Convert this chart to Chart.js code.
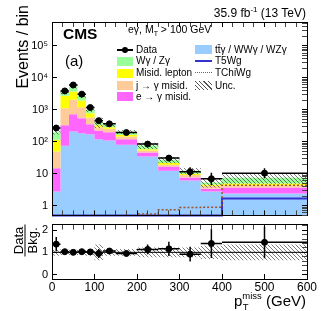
<!DOCTYPE html>
<html><head><meta charset="utf-8">
<script src="https://cdn.jsdelivr.net/npm/chart.js@4.4.1/dist/chart.umd.min.js"></script>
<style>
body{margin:0;background:#fff;}
#wrap{position:relative;width:324px;height:311px;overflow:hidden;font-family:"Liberation Sans",Arial,Helvetica,sans-serif;color:#000;background:#fff;}
canvas{position:absolute;left:0;}
.t{position:absolute;white-space:nowrap;line-height:1;}
.sw{position:absolute;}
</style></head>
<body><div id="wrap">
<canvas id="c1" width="324" height="218" style="top:0;width:324px;height:218px"></canvas>
<canvas id="c2" width="324" height="93" style="top:218px;width:324px;height:93px"></canvas>

<div class="t" style="right:18px;top:7px;font-size:12px">35.9 fb<span style="position:relative;top:-5px;font-size:8px">-1</span> (13 TeV)</div>
<div class="t" style="left:63px;top:26px;font-size:15.5px;font-weight:bold">CMS</div>
<div class="t" style="left:65px;top:53px;font-size:15px">(a)</div>
<div class="t" style="left:128px;top:24px;font-size:10.5px">eγ, M<span style="position:relative;top:3px;font-size:7px">T</span> &gt; 100 GeV</div>
<div class="t" style="left:15px;top:125px;width:120px;text-align:right;font-size:16px;transform-origin:0 0;transform:rotate(-90deg)">Events / bin</div>
<div class="t" style="left:9px;top:227px;width:32px;font-size:13px;text-align:center;transform:rotate(-90deg)"><div style="line-height:13px;border-bottom:1px solid #000">Data</div><div style="line-height:13px">Bkg.</div></div>
<div class="t" style="right:18px;top:293px;font-size:15px">p<span style="position:relative;display:inline-block;font-size:9.5px"><span style="position:relative;top:-7px">miss</span><span style="position:absolute;left:0.5px;top:4px">T</span></span> (GeV)</div>

<!-- legend -->
<div class="sw" style="left:117px;top:49px;width:16px;height:1.5px;background:#000"></div>
<div class="sw" style="left:122px;top:47px;width:6px;height:6px;border-radius:50%;background:#000"></div>
<div class="t" style="left:136px;top:45px;font-size:10px">Data</div>
<div class="sw" style="left:117px;top:57px;width:16px;height:9px;background:#99ff99"></div>
<div class="t" style="left:136px;top:56px;font-size:10px">Wγ / Zγ</div>
<div class="sw" style="left:117px;top:69px;width:16px;height:9px;background:#ffff00"></div>
<div class="t" style="left:136px;top:68px;font-size:10px">Misid. lepton</div>
<div class="sw" style="left:117px;top:81px;width:16px;height:9px;background:#ffcc99"></div>
<div class="t" style="left:136px;top:81px;font-size:10px">j → γ misid.</div>
<div class="sw" style="left:117px;top:92px;width:16px;height:9px;background:#ff66ff"></div>
<div class="t" style="left:136px;top:92px;font-size:10px">e → γ misid.</div>
<div class="sw" style="left:195px;top:45px;width:17px;height:9px;background:#99ccff"></div>
<div class="t" style="left:215px;top:45px;font-size:10px">tt̄γ / WWγ / WZγ</div>
<div class="sw" style="left:195px;top:60px;width:17px;height:2px;background:#3333cc"></div>
<div class="t" style="left:215px;top:56px;font-size:10px">T5Wg</div>
<div class="sw" style="left:195px;top:72px;width:17px;height:0;border-top:1.5px dotted #a0522d"></div>
<div class="t" style="left:215px;top:68px;font-size:10px">TChiWg</div>
<div class="sw" style="left:195px;top:81px;width:17px;height:9px;background:repeating-linear-gradient(45deg,#555 0 0.8px,transparent 0.8px 3px)"></div>
<div class="t" style="left:215px;top:81px;font-size:10px">Unc.</div>
</div>
<script>
// ---------------- data ----------------
const binEdges = [0, 20, 40, 60, 80, 100, 120, 150, 200, 250, 300, 350, 400, 600];
const ttgVals      = [2.8, 76, 210, 187, 174, 120, 110, 81, 35, 12.4, 6.2, 2.8, 2.4];
const eToGammaVals = [12.2, 254, 525, 363, 181, 105, 90, 40, 11, 4.5, 1.5, 0.6, 1.3];
const jToGammaVals = [35, 800, 1325, 660, 220, 63, 55, 26, 8, 2.2, 1.4, 0.8, 0.7];
const misidLepVals = [66, 1610, 1660, 750, 215, 42, 33, 19, 5, 2.5, 0.9, 0.4, 0.6];
const wgZgVals     = [84, 760, 1580, 740, 210, 90, 52, 39, 18, 5.9, 2.5, 0.7, 2.5];
const dataVals     = [270, 3900, 6000, 3100, 1180, 460, 365, 195, 85, 31, 11.5, 7, 10.5];
const dataErrLo    = [16, 62, 77, 56, 34, 21, 19, 14, 9, 5.5, 3.3, 2.6, 3.2];
const dataErrHi    = [17, 63, 78, 57, 35, 22, 20, 15, 10, 6.6, 4.5, 3.8, 4.4];
const t5wgVals     = [0.5, 0.5, 0.5, 0.5, 0.5, 0.5, 0.5, 0.5, 0.5, 0.5, 0.5, 0.5, 1.7];
const tchiwgVals   = [0.2, 0.2, 0.2, 0.2, 0.2, 0.2, 0.2, 0.2, 0.55, 0.75, 0.88, 0.9, 4.4];
const relUnc       = [0.15, 0.12, 0.12, 0.12, 0.15, 0.35, 0.15, 0.15, 0.22, 0.22, 0.22, 0.3, 0.35];
const ratioVals    = [1.37, 1.03, 1.0, 1.03, 1.02, 0.95, 1.06, 0.95, 1.13, 1.16, 0.92, 1.4, 1.45];
const ratioErr     = [0.32, 0.1, 0.07, 0.08, 0.12, 0.2, 0.13, 0.12, 0.22, 0.32, 0.33, 0.65, 0.72];
const yLogLabels   = {'1':'1', '10':'10', '100':'10²', '1000':'10³', '10000':'10⁴', '100000':'10⁵'};
const xTickLabels  = [0, 100, 200, 300, 400, 500, 600];
const ratioTickLabels = [0, 1, 2];
// ----------------------------------------------------------------

const FONT = '"Liberation Sans", Arial, Helvetica, sans-serif';
Chart.defaults.font.family = FONT;
const nB = ttgVals.length;
const centers = binEdges.slice(0, -1).map((e, i) => (e + binEdges[i + 1]) / 2);

function stepPts(vals) {
  const p = vals.map((v, i) => ({x: binEdges[i], y: v}));
  p.push({x: binEdges[nB], y: vals[nB - 1]});
  return p;
}
function hbars(vals) {
  const p = [];
  vals.forEach((v, i) => { p.push({x: binEdges[i], y: v}, {x: binEdges[i + 1], y: v}, {x: binEdges[i + 1], y: null}); });
  return p;
}
function vbars(vals, lo, hi) {
  const p = [];
  vals.forEach((v, i) => { p.push({x: centers[i], y: v - lo[i]}, {x: centers[i], y: v + hi[i]}, {x: centers[i], y: null}); });
  return p;
}
const stackList = [ttgVals, eToGammaVals, jToGammaVals, misidLepVals, wgZgVals];
const stackColors = ['#99ccff', '#ff66ff', '#ffcc99', '#ffff00', '#99ff99'];
let acc = new Array(nB).fill(0);
const cums = stackList.map(vals => { acc = acc.map((a, i) => a + vals[i]); return acc.slice(); });
const totalBkg = cums[cums.length - 1];

function hatch() {
  const c = document.createElement('canvas'); c.width = 4; c.height = 4;
  const g = c.getContext('2d');
  g.strokeStyle = '#444'; g.lineWidth = 0.7;
  g.beginPath();
  g.moveTo(0, 0); g.lineTo(4, 4);
  g.moveTo(-1, 3); g.lineTo(1, 5);
  g.moveTo(3, -1); g.lineTo(5, 1);
  g.stroke();
  return g.createPattern(c, 'repeat');
}
const pat = hatch();

function xTicks() { const t = []; for (let v = 0; v <= 600; v += 25) t.push({value: v, major: v % 100 === 0}); return t; }
function logTicks(min, max) {
  const t = [];
  for (let e = -1; e <= 6; e++) for (let m = 1; m <= 9; m++) {
    const v = +(m * Math.pow(10, e)).toPrecision(3);
    if (v >= min && v <= max) t.push({value: v, major: m === 1});
  }
  return t;
}
function ratioTicks() { const t = []; for (let k = 0; k <= 11; k++) { const v = Math.round(k * 0.2 * 10) / 10; t.push({value: v, major: Number.isInteger(v)}); } return t; }
const tickCol = ctx => (ctx.tick && ctx.tick.major) ? '#000' : '#444';
const gridOpt = {drawOnChartArea: false, drawTicks: true, tickLength: -5, tickColor: tickCol, tickWidth: 1, z: 1};
const borderOpt = {display: true, color: '#000', width: 1, z: 1};

const line = (data, extra) => Object.assign({type: 'line', data, pointRadius: 0, tension: 0, borderWidth: 1, fill: false}, extra);

const ds1 = [];
cums.forEach((c, k) => {
  ds1.push(line(stepPts(c), {stepped: 'before', fill: k === 0 ? 'start' : '-1', backgroundColor: stackColors[k], borderColor: 'rgba(0,0,0,0)', borderWidth: 0, order: 10 - k}));
});
ds1.push(line(stepPts(totalBkg.map((v, i) => v * (1 - relUnc[i]))), {stepped: 'before', borderColor: 'rgba(0,0,0,0)', borderWidth: 0, order: 5}));
ds1.push(line(stepPts(totalBkg.map((v, i) => v * (1 + relUnc[i]))), {stepped: 'before', fill: '-1', backgroundColor: pat, borderColor: 'rgba(0,0,0,0)', borderWidth: 0, order: 4}));
ds1.push(line(stepPts(tchiwgVals), {stepped: 'before', borderColor: '#a0522d', borderWidth: 1.5, borderDash: [2, 2], order: 3}));
ds1.push(line(stepPts(t5wgVals), {stepped: 'before', borderColor: '#3333cc', borderWidth: 2, order: 3, clip: 2}));
ds1.push(line(hbars(dataVals), {borderColor: '#000', borderWidth: 1.5, order: 1}));
ds1.push(line(vbars(dataVals, dataErrLo, dataErrHi), {borderColor: '#000', borderWidth: 1.5, order: 1}));
ds1.push(line(dataVals.map((v, i) => ({x: centers[i], y: v})), {showLine: false, pointRadius: 3, pointBackgroundColor: '#000', pointBorderColor: '#000', order: 0}));

const baseOpts = {responsive: false, maintainAspectRatio: false, animation: false, events: [],
  plugins: {legend: {display: false}, tooltip: {enabled: false}}};

const cv1 = document.getElementById('c1');
const ch1 = new Chart(cv1, {
  type: 'line',
  data: {datasets: ds1},
  options: Object.assign({}, baseOpts, {
    layout: {padding: {left: 0, right: 17, top: 22, bottom: 3}},
    scales: {
      x: {type: 'linear', axis: 'x', position: 'bottom', min: 0, max: 600, afterBuildTicks: s => { s.ticks = xTicks(); },
          ticks: {display: false}, grid: gridOpt, border: borderOpt, afterFit: s => { s.height = 0; }},
      xTop: {type: 'linear', axis: 'x', position: 'top', min: 0, max: 600, afterBuildTicks: s => { s.ticks = xTicks(); },
          ticks: {display: false}, grid: gridOpt, border: borderOpt, afterFit: s => { s.height = 0; }},
      y: {type: 'logarithmic', axis: 'y', position: 'left', min: 0.5, max: 5.6e5,
          afterBuildTicks: s => { s.ticks = logTicks(0.5, 5.6e5); },
          ticks: {autoSkip: false, padding: 9, color: '#000', font: {size: 11}, callback: v => (yLogLabels[String(v)] ?? null)},
          grid: gridOpt, border: borderOpt, afterFit: s => { s.width = 52; }},
      yR: {type: 'logarithmic', axis: 'y', position: 'right', min: 0.5, max: 5.6e5,
          afterBuildTicks: s => { s.ticks = logTicks(0.5, 5.6e5); },
          ticks: {display: false}, grid: gridOpt, border: borderOpt, afterFit: s => { s.width = 0; }}
    }
  })
});

const ds2 = [];
ds2.push(line(stepPts(relUnc.map(u => 1 - u)), {stepped: 'before', borderColor: 'rgba(0,0,0,0)', borderWidth: 0, order: 5}));
ds2.push(line(stepPts(relUnc.map(u => 1 + u)), {stepped: 'before', fill: '-1', backgroundColor: pat, borderColor: 'rgba(0,0,0,0)', borderWidth: 0, order: 4}));
ds2.push(line([{x: 0, y: 1}, {x: 600, y: 1}], {borderColor: '#000', borderWidth: 1, order: 3}));
ds2.push(line(hbars(ratioVals), {borderColor: '#000', borderWidth: 1.5, order: 1}));
ds2.push(line(vbars(ratioVals, ratioErr, ratioErr), {borderColor: '#000', borderWidth: 1.5, order: 1}));
ds2.push(line(ratioVals.map((v, i) => ({x: centers[i], y: v})), {showLine: false, pointRadius: 3, pointBackgroundColor: '#000', pointBorderColor: '#000', order: 0}));

const cv2 = document.getElementById('c2');
const ch2 = new Chart(cv2, {
  type: 'line',
  data: {datasets: ds2},
  options: Object.assign({}, baseOpts, {
    layout: {padding: {left: 0, right: 17, top: 6, bottom: 0}},
    scales: {
      x: {type: 'linear', axis: 'x', position: 'bottom', min: 0, max: 600, afterBuildTicks: s => { s.ticks = xTicks(); },
          ticks: {autoSkip: false, maxRotation: 0, padding: 6, color: '#000', font: {size: 12}, callback: v => (xTickLabels.includes(v) ? String(v) : null)},
          grid: gridOpt, border: borderOpt, afterFit: s => { s.height = 32; }},
      xTop: {type: 'linear', axis: 'x', position: 'top', min: 0, max: 600, afterBuildTicks: s => { s.ticks = xTicks(); },
          ticks: {display: false}, grid: gridOpt, border: borderOpt, afterFit: s => { s.height = 0; }},
      y: {type: 'linear', axis: 'y', position: 'left', min: -0.2, max: 2.25, afterBuildTicks: s => { s.ticks = ratioTicks(); },
          ticks: {autoSkip: false, padding: 9, color: '#000', font: {size: 11}, callback: v => (ratioTickLabels.includes(v) ? String(v) : null)},
          grid: gridOpt, border: borderOpt, afterFit: s => { s.width = 52; }},
      yR: {type: 'linear', axis: 'y', position: 'right', min: -0.2, max: 2.25, afterBuildTicks: s => { s.ticks = ratioTicks(); },
          ticks: {display: false}, grid: gridOpt, border: borderOpt, afterFit: s => { s.width = 0; }}
    }
  })
});

// place each plotting area exactly where the reference frame is (layout only)
function fitArea(chart, canvas, top, bottom) {
  for (let k = 0; k < 3; k++) {
    const a = chart.chartArea, H = chart.height;
    const t0 = a.top, b0 = H - a.bottom;
    const newH = Math.round(t0 + (bottom - top) + b0);
    canvas.style.top = (top - t0) + 'px';
    if (newH === H) break;
    chart.resize(324, newH);
  }
}
fitArea(ch1, cv1, 22, 215);
fitArea(ch2, cv2, 225, 279);
</script>
</body></html>
